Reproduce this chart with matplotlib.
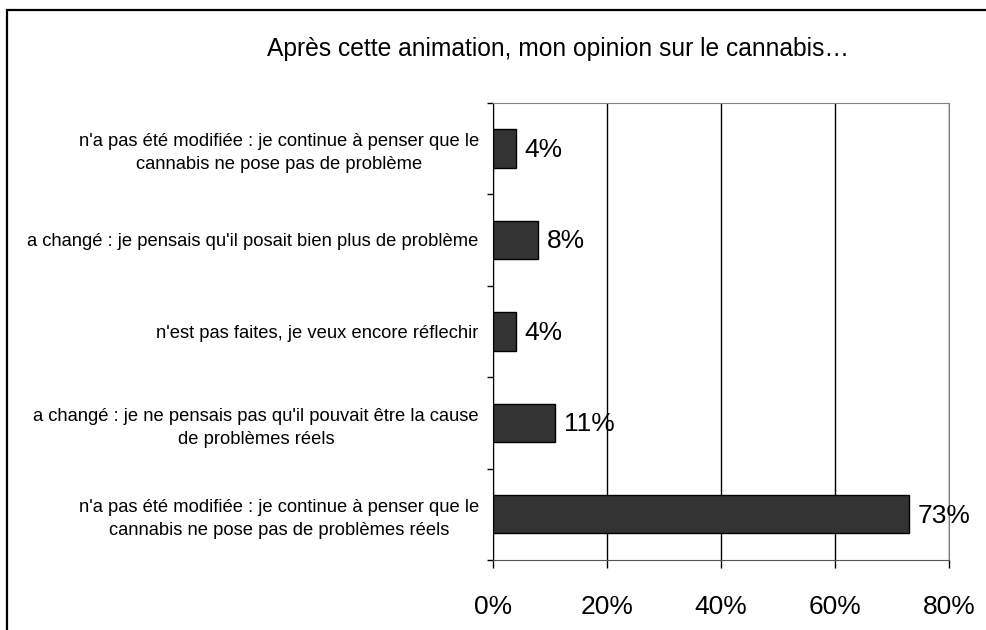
import matplotlib.pyplot as plt
from matplotlib.patches import Rectangle
from matplotlib.ticker import FixedLocator, PercentFormatter

plt.rcParams["font.family"] = ["Liberation Sans", "DejaVu Sans"]

title = "Après cette animation, mon opinion sur le cannabis…"
categories = [
    "n'a pas été modifiée : je continue à penser que le\ncannabis ne pose pas de problème",
    "a changé : je pensais qu'il posait bien plus de problème",
    "n'est pas faites, je veux encore réflechir",
    "a changé : je ne pensais pas qu'il pouvait être la cause\nde problèmes réels",
    "n'a pas été modifiée : je continue à penser que le\ncannabis ne pose pas de problèmes réels",
]
values = [4, 8, 4, 11, 73]
xticks = [0, 20, 40, 60, 80]

fig = plt.figure(figsize=(9.86, 6.30), dpi=100)
ax = fig.add_axes([0.4997, 0.1111, 0.4628, 0.7259])

pos = list(range(len(categories)))
bars = ax.barh(pos, values, height=0.42, color="#333333", edgecolor="black", linewidth=1, zorder=3)

ax.set_xlim(0, 80)
ax.set_ylim(len(categories) - 0.5, -0.5)
ax.set_xticks(xticks)
ax.xaxis.set_major_formatter(PercentFormatter(decimals=0))
ax.tick_params(axis="x", direction="out", length=6, width=1, pad=19, labelsize=19)
ax.xaxis.grid(True, color="black", linewidth=1, zorder=0)

ax.set_yticks(pos)
ax.set_yticklabels(categories)
ax.tick_params(axis="y", which="major", length=0, pad=10, labelsize=13.2)
for lab in ax.get_yticklabels():
    lab.set_multialignment("center")
    lab.set_linespacing(1.45)
ax.yaxis.set_minor_locator(FixedLocator([p - 0.5 for p in pos] + [pos[-1] + 0.5]))
ax.tick_params(axis="y", which="minor", direction="out", length=4, width=1)

for side in ["top", "right"]:
    ax.spines[side].set_color("#808080")
ax.spines["bottom"].set_color("#555555")
ax.spines["left"].set_color("black")

for b, v in zip(bars, values):
    ax.annotate(f"{v}%", (b.get_width(), b.get_y() + b.get_height() / 2),
                xytext=(6.5, -1), textcoords="offset points",
                va="center", ha="left", fontsize=19, zorder=4)

fig.text(0.566, 0.922, title, ha="center", va="center", fontsize=17.7)

fig.patches.append(Rectangle((7 / 986, -0.1), 1.2, 1 - 10 / 630 + 0.1,
                             transform=fig.transFigure, fill=False,
                             edgecolor="black", linewidth=1.6))

fig.savefig("out.png", dpi=100)
